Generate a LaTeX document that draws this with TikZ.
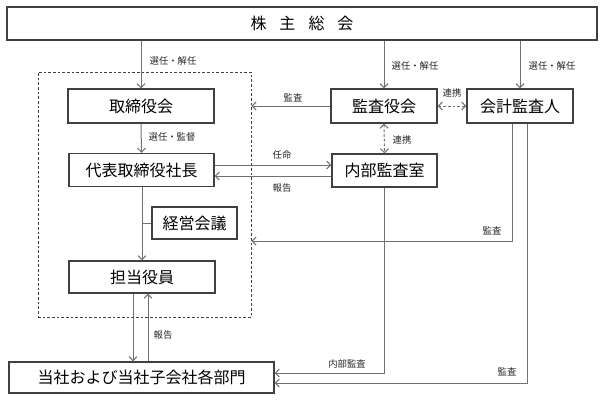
\documentclass[tikz,border=0pt]{standalone}
\usepackage{fontspec}
\setmainfont{Noto Sans CJK JP}
\usetikzlibrary{arrows.meta,calc}
\definecolor{linegray}{HTML}{707070}
\definecolor{boxgray}{HTML}{404040}
\tikzset{
  box/.style={draw=boxgray, line width=0.9pt, inner sep=0pt, font=\fontsize{12pt}{14pt}\selectfont, text=black},
  conn/.style={draw=linegray, line width=0.75pt},
  arr/.style={conn, -{Straight Barb[length=3pt,width=6pt]}},
  dblarr/.style={conn, dashed, dash pattern=on 2pt off 1.5pt, {Straight Barb[length=3pt,width=6pt]}-{Straight Barb[length=3pt,width=6pt]}},
  lbl/.style={font=\fontsize{7pt}{8pt}\selectfont, text=black!85, inner sep=0pt},
  grpbox/.style={draw=boxgray, dashed, dash pattern=on 2pt off 1.5pt, line width=0.6pt, inner sep=0pt}
}
\begin{document}
\begin{tikzpicture}[x=0.75pt,y=-0.75pt]
\useasboundingbox (0,0) rectangle (603,403);
% group dashed frame
\node[grpbox, minimum width=159.75pt, minimum height=183.75pt] (grp) at (144.5,194.5) {};
% nodes
\node[box, minimum width=442.5pt, minimum height=24.75pt] (top) at (302,23.5) {株\hspace{9.75pt}主\hspace{9.75pt}総\hspace{9.75pt}会};
\node[box, minimum width=109.5pt, minimum height=25.5pt] (tori) at (141,106) {取締役会};
\node[box, minimum width=79.5pt, minimum height=25.5pt] (kansa) at (384,106) {監査役会};
\node[box, minimum width=79.5pt, minimum height=25.5pt] (kaikei) at (520,106) {会計監査人};
\node[box, minimum width=108.75pt, minimum height=24.75pt] (daihyo) at (141.5,170) {代表取締役社長};
\node[box, minimum width=78.75pt, minimum height=24.75pt] (naibu) at (384.5,170.5) {内部監査室};
\node[box, minimum width=63.75pt, minimum height=24pt] (keiei) at (194.5,223) {経営会議};
\node[box, minimum width=109.5pt, minimum height=24pt] (tanto) at (142,277) {担当役員};
\node[box, minimum width=198.75pt, minimum height=23.25pt] (tosha) at (141.5,377.5) {当社および当社子会社各部門};
% connectors from top
\draw[arr] (top.south -| tori) -- (tori.north);
\draw[arr] (top.south -| kansa) -- (kansa.north);
\draw[arr] (top.south -| kaikei) -- (kaikei.north);
\node[lbl] (l1) at (173,61) {選任・解任};
\node[lbl] (l2) at (415,66) {選任・解任};
\node[lbl] (l3) at (552,66) {選任・解任};
% audit board to board
\draw[arr] (kansa.west) -- (kansa.west -| grp.east);
\node[lbl] (l4) at (293,98) {監査};
% cooperation
\draw[dblarr] (kansa.east) -- (kaikei.west);
\node[lbl] (l5) at (452,93) {連携};
\draw[dblarr] (kansa.south) -- (naibu.north);
\node[lbl] (l6) at (402,140) {連携};
% board to president
\draw[arr] (tori.south) -- (daihyo.north);
\node[lbl] (l7) at (172,137) {選任・監督};
% president <-> internal audit
\draw[arr] ($(daihyo.east)+(0,-5)$) -- ($(naibu.west)+(0,-5.5)$);
\node[lbl] (l8) at (282,155) {任命};
\draw[arr] ($(naibu.west)+(0,5.5)$) -- ($(daihyo.east)+(0,6)$);
\node[lbl] (l9) at (282,188) {報告};
% president to officers, branch to management meeting
\draw[arr] (daihyo.south -| tanto) -- (tanto.north);
\draw[conn] (keiei.west -| tanto) -- (keiei.west);
% officers <-> departments
\draw[arr] ($(tanto.south)+(-9,0)$) -- ($(tosha.north)+(-8.5,0)$);
\draw[arr] ($(tosha.north)+(6.5,0)$) -- ($(tanto.south)+(6,0)$);
\node[lbl] (l10) at (163,335) {報告};
% accounting auditor audit lines
\draw[arr] ($(kaikei.south)+(-8,0)$) |- ($(grp.east)+(0,46.5)$);
\node[lbl] (l11) at (492,231) {監査};
\draw[arr] (naibu.south) |- ($(tosha.east)+(0,-4.5)$);
\node[lbl] (l12) at (347,364) {内部監査};
\draw[arr] ($(kaikei.south)+(7,0)$) |- ($(tosha.east)+(0,5.5)$);
\node[lbl] (l13) at (507,372) {監査};
\end{tikzpicture}
\end{document}
